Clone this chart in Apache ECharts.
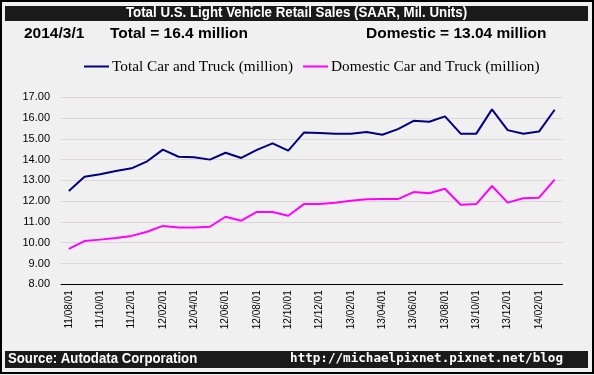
<!DOCTYPE html>
<html>
<head>
<meta charset="utf-8">
<script src="https://cdn.jsdelivr.net/npm/echarts@6/dist/echarts.min.js"></script>
<style>
  html, body { margin: 0; padding: 0; background: #fff; }
  #chart { width: 594px; height: 375px; }
</style>
</head>
<body>
<div id="chart"></div>
<script>
// months 2011/08 .. 2014/03
const months = [
  '11/08/01', '11/09/01', '11/10/01', '11/11/01', '11/12/01', '12/01/01', '12/02/01', '12/03/01',
  '12/04/01', '12/05/01', '12/06/01', '12/07/01', '12/08/01', '12/09/01', '12/10/01', '12/11/01',
  '12/12/01', '13/01/01', '13/02/01', '13/03/01', '13/04/01', '13/05/01', '13/06/01', '13/07/01',
  '13/08/01', '13/09/01', '13/10/01', '13/11/01', '13/12/01', '14/01/01', '14/02/01', '14/03/01'
];
const totalSales = [
  12.49, 13.18, 13.30, 13.45, 13.58, 13.92, 14.48, 14.14, 14.12, 14.00, 14.33, 14.08, 14.47, 14.78, 14.43, 15.30,
  15.28, 15.25, 15.25, 15.33, 15.20, 15.47, 15.87, 15.82, 16.08, 15.25, 15.25, 16.42, 15.42, 15.25, 15.35, 16.40
];
const domesticSales = [
  9.70, 10.08, 10.15, 10.23, 10.33, 10.53, 10.81, 10.73, 10.73, 10.77, 11.25, 11.06, 11.48, 11.48, 11.30, 11.86,
  11.86, 11.93, 12.02, 12.09, 12.10, 12.10, 12.44, 12.38, 12.60, 11.83, 11.86, 12.73, 11.93, 12.14, 12.17, 13.04
];
const seriesNames = ['Total Car and Truck (million)', 'Domestic Car and Truck (million)'];

const chart = echarts.init(document.getElementById('chart'));
const sans = '"Liberation Sans", Arial, sans-serif';

const option = {
  backgroundColor: '#f0f0f0',
  animation: false,
  color: ['#000080', '#ff00ff'],
  graphic: [
    // outer frame
    { type: 'rect', shape: { x: 1, y: 1, width: 592, height: 372 },
      style: { fill: 'none', stroke: '#000', lineWidth: 2 }, silent: true },
    // header bar
    { type: 'rect', shape: { x: 5, y: 6, width: 583, height: 15 },
      style: { fill: '#1a1a1a' }, silent: true },
    { type: 'text', x: 296.5, y: 6.5, scaleX: 0.95,
      style: { text: 'Total U.S. Light Vehicle Retail Sales (SAAR, Mil. Units)', fill: '#fff',
        textAlign: 'center', font: 'bold 14px ' + sans } },
    { type: 'text', x: 24, y: 26,
      style: { text: '2014/3/1', fill: '#000', font: 'bold 15.5px ' + sans } },
    { type: 'text', x: 110, y: 26,
      style: { text: 'Total = 16.4 million', fill: '#000', font: 'bold 15.5px ' + sans } },
    { type: 'text', x: 366, y: 26,
      style: { text: 'Domestic = 13.04 million', fill: '#000', font: 'bold 15.5px ' + sans } },
    // footer bar
    { type: 'rect', shape: { x: 5, y: 351, width: 583, height: 17 },
      style: { fill: '#1a1a1a' }, silent: true },
    { type: 'text', x: 8, y: 351.5, scaleX: 0.88,
      style: { text: 'Source: Autodata Corporation', fill: '#fff', font: 'bold 15px ' + sans } },
    { type: 'text', x: 563, y: 352.5,
      style: { text: 'http://michaelpixnet.pixnet.net/blog', fill: '#fff', textAlign: 'right',
        font: 'bold 12.6px "DejaVu Sans Mono", monospace' } }
  ],
  legend: {
    data: seriesNames,
    top: 54,
    left: 79,
    icon: 'rect',
    itemWidth: 25,
    itemHeight: 2,
    itemGap: 10,
    textStyle: { fontFamily: '"Liberation Serif", "Times New Roman", serif', fontSize: 15.3, color: '#000', padding: [0, 0, 0, -2] }
  },
  grid: { left: 61, right: 31.5, top: 97.3, bottom: 90.7, containLabel: false },
  xAxis: {
    type: 'category',
    data: months,
    boundaryGap: true,
    axisLine: { lineStyle: { color: '#000', width: 1 } },
    axisTick: { show: false },
    axisLabel: {
      interval: 1,
      rotate: 90,
      color: '#000',
      fontSize: 10,
      fontFamily: sans,
      margin: 6
    }
  },
  yAxis: {
    type: 'value',
    min: 8,
    max: 17,
    interval: 1,
    axisLine: { show: false },
    axisTick: { show: false },
    axisLabel: {
      color: '#000',
      fontSize: 11,
      fontFamily: sans,
      margin: 11,
      formatter: v => v.toFixed(2)
    },
    splitLine: { lineStyle: { color: '#ddd6d6', width: 1 } }
  },
  series: [
    { name: seriesNames[0], type: 'line', data: totalSales, showSymbol: false,
      lineStyle: { width: 2 } },
    { name: seriesNames[1], type: 'line', data: domesticSales, showSymbol: false,
      lineStyle: { width: 2 } }
  ]
};
chart.setOption(option);
</script>
</body>
</html>
